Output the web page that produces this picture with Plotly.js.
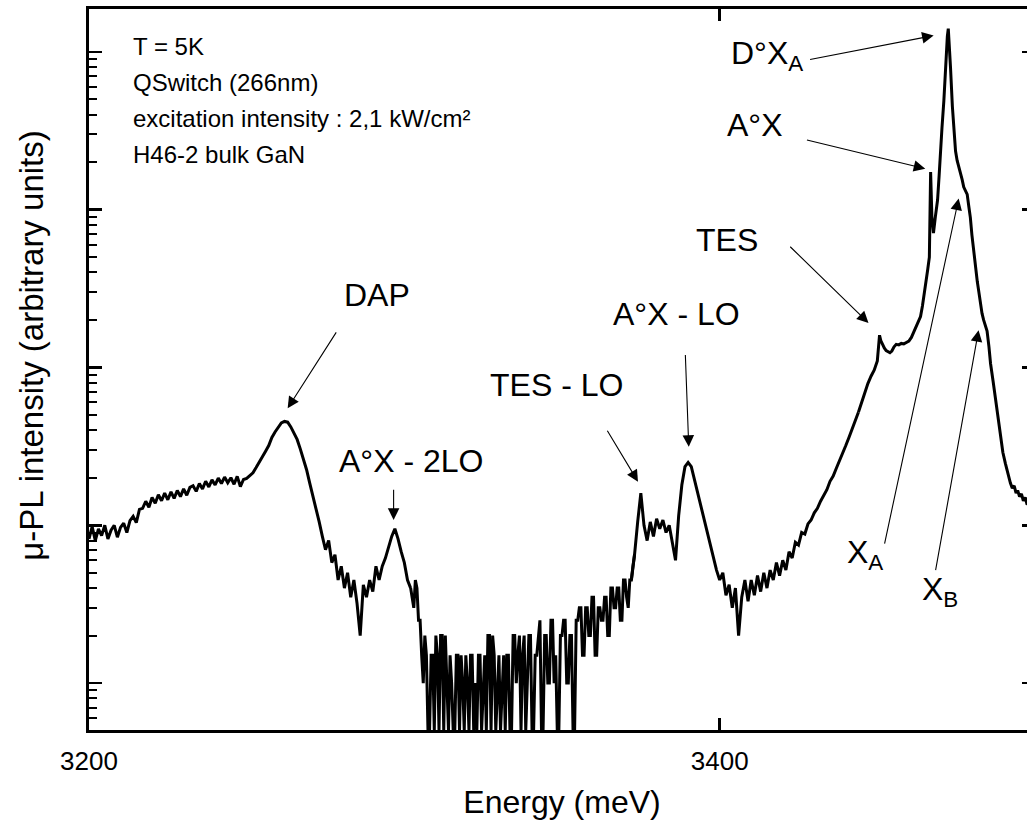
<!DOCTYPE html>
<html>
<head>
<meta charset="utf-8">
<script src="https://cdn.plot.ly/plotly-3.0.1.min.js"></script>
<style>
html,body{margin:0;padding:0;overflow:hidden;background:#ffffff;}
#chart{width:1040px;height:827px;}
</style>
</head>
<body>
<div id="chart"></div>
<script>
// ---------- data ----------
// 1 meV sampled part, 3200 ... 3302 meV (DAP band and A°X-2LO)
const energyStartLow = 3200;
const energyStepLow = 1;
const intensityLow = [
  82, 98, 80, 95, 86, 100, 82, 93, 100, 84,
  97, 103, 90, 107, 114, 104, 126, 128, 142, 130,
  150, 138, 156, 143, 160, 145, 163, 148, 166, 152,
  170, 155, 174, 178, 164, 184, 170, 190, 175, 194,
  180, 199, 184, 202, 186, 200, 182, 204, 176, 195,
  198, 205, 215, 232, 250, 272, 295, 320, 360, 390,
  420, 445, 455, 450, 420, 385, 350, 305, 265, 225,
  185, 155, 125, 105, 85, 70, 80, 58, 65, 45,
  55, 40, 50, 35, 45, 32, 20, 42, 35, 45,
  38, 55, 45, 55, 62, 72, 85, 95, 82, 68,
  58, 45, 40
];
// noisy, count-quantised valley, 3302 ... 3373 meV, 0.5 meV step
const energyStartValley = 3302;
const energyStepValley = 0.5;
const intensityValley = [
  40, 35, 30, 45, 40, 25, 25, 15, 10, 20,
  15, 5, 5, 15, 15, 5, 20, 15, 5, 20,
  20, 5, 20, 10, 5, 15, 10, 5, 5, 15,
  15, 5, 15, 10, 5, 15, 10, 5, 15, 15,
  5, 10, 5, 15, 15, 5, 10, 15, 5, 20,
  20, 5, 20, 15, 5, 10, 15, 5, 10, 15,
  5, 15, 15, 5, 5, 20, 20, 10, 15, 20,
  5, 15, 20, 5, 10, 20, 20, 5, 5, 15,
  15, 20, 25, 5, 5, 20, 20, 10, 10, 25,
  25, 10, 15, 5, 5, 20, 20, 25, 25, 10,
  10, 20, 20, 5, 5, 25, 25, 30, 30, 15,
  15, 30, 30, 20, 20, 35, 35, 15, 15, 30,
  30, 25, 25, 35, 35, 20, 20, 40, 40, 30,
  30, 40, 40, 25, 25, 45, 45, 35, 30, 45,
  45, 55, 65
];
// 1 meV sampled part, 3372 ... 3444 meV (TES-LO, A°X-LO)
const energyStartMid = 3372;
const energyStepMid = 1;
const intensityMid = [
  45, 65, 105, 160, 100, 80, 105, 85,
  110, 95, 108, 90, 100, 75, 60, 115, 180, 235,
  250, 235, 195, 160, 135, 110, 90, 75, 62, 52,
  45, 50, 36, 42, 30, 40, 20, 35, 45, 33,
  45, 36, 48, 38, 50, 40, 52, 45, 58, 48,
  60, 52, 68, 62, 78, 75, 90, 88, 102, 108,
  120, 128, 142, 155, 168, 190, 205, 230, 255, 285,
  320, 360, 410, 460, 520
];

// finely sampled excitonic region: TES, A°X, D°XA, XA, XB
const energyPeak = [
  3444, 3445, 3446, 3447, 3448, 3449, 3450, 3450.4, 3450.7, 3451.1,
  3451.6, 3452.2, 3452.8, 3453.4, 3454, 3454.6, 3455.3, 3456, 3456.8, 3457.6,
  3458.4, 3459.2, 3460, 3460.8, 3461.5, 3462.3, 3463, 3463.7, 3464.3, 3464.9,
  3465.5, 3466, 3466.5, 3466.9, 3467.3, 3467.8, 3468.4, 3469.1, 3469.6, 3470,
  3470.5, 3471.1, 3471.5, 3471.9, 3472.2, 3472.5, 3472.8, 3473.2, 3473.8, 3474.3,
  3474.8, 3475.3, 3475.9, 3476.4, 3476.9, 3477.4, 3478, 3478.5, 3479, 3479.5,
  3480, 3480.6, 3481.1, 3481.7, 3482.2, 3482.7, 3483.2, 3483.7, 3484.3, 3484.8,
  3485.4, 3485.9, 3486.7, 3487.5, 3488.2, 3489, 3489.8, 3490.6, 3491.4, 3492.2,
  3492.8, 3493.4, 3494, 3494.5, 3495.1, 3495.7, 3496.3, 3496.9, 3497.5, 3498.1,
  3498.7, 3499.3, 3500
];
const intensityPeak = [
  520, 600, 690, 790, 880, 960, 1100, 1300, 1600, 1480,
  1400, 1330, 1280, 1260, 1240, 1270, 1350, 1400, 1390, 1420,
  1410, 1440, 1470, 1550, 1660, 1800, 1950, 2100, 2450, 2900,
  3500, 4200, 5000, 17300, 9000, 7100, 9000, 11500, 16500, 23700,
  33000, 49000, 70000, 102000, 125000, 140000, 115000, 80000, 45000, 30000,
  23500, 20500, 18500, 17300, 15500, 13900, 13200, 12500, 10500, 8900,
  6900, 5300, 4300, 3500, 3000, 2500, 2200, 2000, 1850, 1700,
  1350, 1060, 820, 620, 480, 360, 290, 247, 210, 185,
  172, 178, 160, 166, 152, 158, 143, 150, 135, 142,
  130, 138, 132
];

// axis ticks
const xTickVals = [3200, 3400];
const xTickText = ['3200', '3400'];
const yMajorTicks = [10, 100, 1000, 10000, 100000];
const yMinorTicks = [
  6, 7, 8, 9,
  20, 30, 40, 50, 60, 70, 80, 90,
  200, 300, 400, 500, 600, 700, 800, 900,
  2000, 3000, 4000, 5000, 6000, 7000, 8000, 9000,
  20000, 30000, 40000, 50000, 60000, 70000, 80000, 90000
];

// text
const xTitle = 'Energy (meV)';
const yTitle = 'μ-PL intensity (arbitrary units)';
const infoLines = ['T = 5K', 'QSwitch (266nm)', 'excitation intensity : 2,1 kW/cm²', 'H46-2 bulk GaN'];
const peakLabels = ['D°X<sub>A</sub>', 'A°X', 'TES', 'A°X - LO', 'TES - LO', 'DAP', 'A°X - 2LO', 'X<sub>A</sub>', 'X<sub>B</sub>'];

// ---------- layout helpers (positions only) ----------
const FONT = 'Liberation Sans, Arial, sans-serif';
const infoPos = [[3213.2, 5.034], [3213.2, 4.806], [3213.2, 4.578], [3213.2, 4.350]];
// [x, log10 y, xanchor]
const labelPos = [
  [3402.8, 4.977, 'left'],
  [3401.8, 4.534, 'left'],
  [3412.9, 3.806, 'right'],
  [3386.4, 3.337, 'center'],
  [3348.2, 2.888, 'center'],
  [3291.3, 3.458, 'center'],
  [3278.8, 2.407, 'left'],
  [3439.9, 1.818, 'left'],
  [3463.6, 1.581, 'left']
];
// arrows: [tailX, tailLogY, headX, headLogY]
const arrowPos = [
  [3428.2, 4.949, 3467.85, 5.103],
  [3427.2, 4.443, 3465.2, 4.259],
  [3421.9, 3.774, 3447.2, 3.282],
  [3389.1, 3.089, 3390.2, 2.497],
  [3364.1, 2.608, 3374.1, 2.276],
  [3278.7, 3.232, 3263.0, 2.741],
  [3296.6, 2.234, 3296.6, 2.034],
  [3452.2, 1.875, 3475.8, 4.070],
  [3468.4, 1.706, 3482.1, 3.236]
];

const annotations = [];
infoLines.forEach((t, i) => {
  annotations.push({text: t, x: infoPos[i][0], y: infoPos[i][1], xref: 'x', yref: 'y',
    xanchor: 'left', yanchor: 'middle', showarrow: false,
    font: {family: FONT, size: 24, color: '#000'}});
});
peakLabels.forEach((t, i) => {
  annotations.push({text: t, x: labelPos[i][0], y: labelPos[i][1], xref: 'x', yref: 'y',
    xanchor: labelPos[i][2], yanchor: 'middle', showarrow: false,
    font: {family: FONT, size: 32, color: '#000'}});
});
arrowPos.forEach(a => {
  annotations.push({text: '', x: a[2], y: a[3], ax: a[0], ay: a[1],
    xref: 'x', yref: 'y', axref: 'x', ayref: 'y',
    showarrow: true, arrowhead: 2, arrowsize: 2.1, arrowwidth: 1.1, arrowcolor: '#000', standoff: 0});
});
annotations.push({text: yTitle, xref: 'paper', yref: 'paper', x: -0.0608, y: 0.5337,
  xanchor: 'center', yanchor: 'middle', textangle: -90, showarrow: false,
  font: {family: FONT, size: 33, color: '#000'}});

const lineStyle = {color: '#000000', width: 3};
const traces = [
  {type: 'scatter', mode: 'lines', x0: energyStartLow, dx: energyStepLow, y: intensityLow,
   line: lineStyle, showlegend: false, hoverinfo: 'skip'},
  {type: 'scatter', mode: 'lines', x0: energyStartValley, dx: energyStepValley, y: intensityValley,
   line: lineStyle, showlegend: false, hoverinfo: 'skip'},
  {type: 'scatter', mode: 'lines', x0: energyStartMid, dx: energyStepMid, y: intensityMid,
   line: lineStyle, showlegend: false, hoverinfo: 'skip'},
  {type: 'scatter', mode: 'lines', x: energyPeak, y: intensityPeak,
   line: lineStyle, showlegend: false, hoverinfo: 'skip'}
];

const layout = {
  width: 1040, height: 827,
  margin: {l: 88.5, r: 5.3, t: 8.5, b: 96.8},
  paper_bgcolor: '#ffffff', plot_bgcolor: '#ffffff',
  showlegend: false,
  font: {family: FONT, color: '#000'},
  xaxis: {
    range: [3200, 3500], tickmode: 'array', tickvals: xTickVals, ticktext: xTickText,
    ticks: 'inside', ticklen: 12, tickwidth: 2.5, tickcolor: '#000',
    showline: true, linewidth: 3, linecolor: '#000', mirror: 'ticks',
    showgrid: false, zeroline: false,
    tickfont: {family: FONT, size: 26, color: '#000'},
    ticklabelstandoff: 6,
    title: {text: xTitle, font: {family: FONT, size: 32, color: '#000'}, standoff: 16}
  },
  yaxis: {
    type: 'log', range: [0.703, 5.271], tickmode: 'array', tickvals: yMajorTicks,
    showticklabels: false,
    ticks: 'inside', ticklen: 13, tickwidth: 2.5, tickcolor: '#000',
    minor: {tickmode: 'array', tickvals: yMinorTicks, ticks: 'inside', ticklen: 8, tickwidth: 2, tickcolor: '#000', showgrid: false},
    showline: true, linewidth: 3, linecolor: '#000', mirror: 'ticks',
    showgrid: false, zeroline: false
  },
  annotations: annotations
};

Plotly.newPlot('chart', traces, layout, {displayModeBar: false, staticPlot: true});
</script>
</body>
</html>
